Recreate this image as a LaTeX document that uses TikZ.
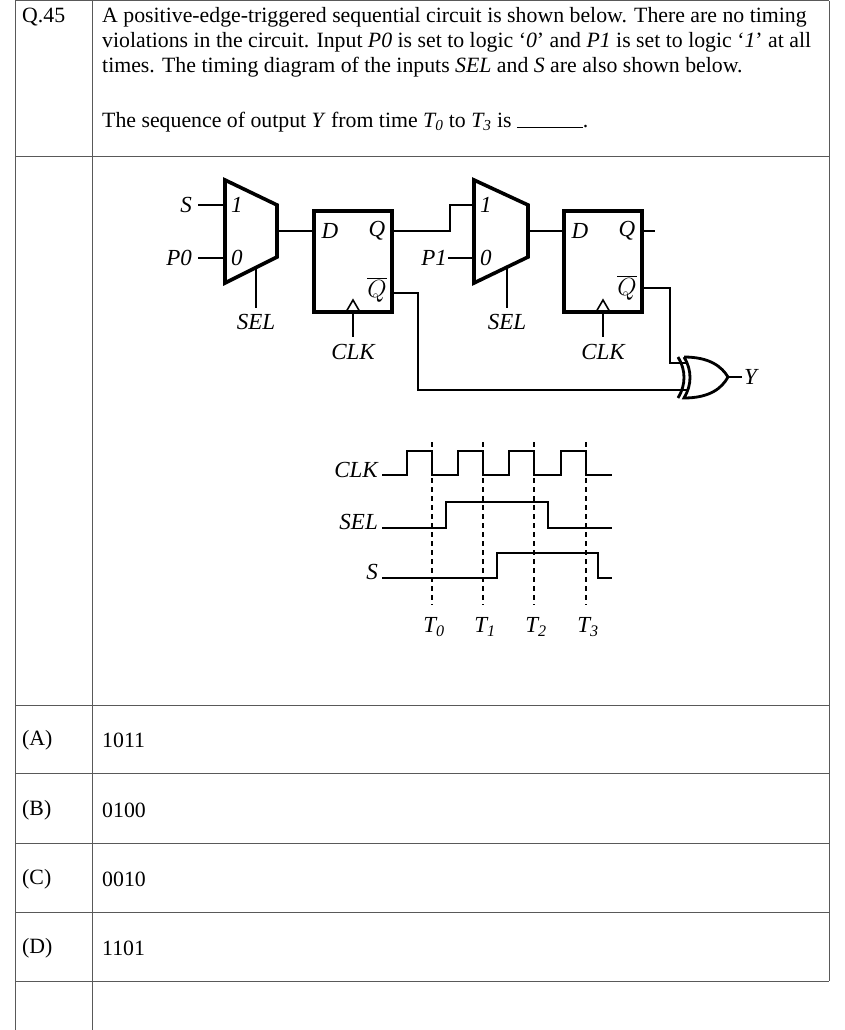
\documentclass[tikz,border=0pt]{standalone}
\usepackage{fontspec}
\setmainfont{Liberation Serif}
\begin{document}
\begin{tikzpicture}[x=1pt, y=-1pt,
  txt/.style = {anchor=west, inner sep=0pt, font=\fontsize{21.8}{27}\selectfont},
  lbl/.style = {inner sep=0pt, font=\fontsize{23}{27}\selectfont\itshape},
  thick box/.style = {line width=3.6pt, line join=miter},
  wire/.style = {line width=1.6pt},
  wave/.style = {line width=1.8pt},
  mark line/.style = {line width=1.3pt, dashed, dash pattern=on 5pt off 4pt}]
	\useasboundingbox (0,0) rectangle (845,1030);
	
	% table
	\draw[line width=1pt, gray!70!black] (15,1) -- (829,1);
	\foreach \y in {156,705,773,843,912,981}
	  \draw[line width=1pt, gray!70!black] (15,\y) -- (829,\y);
	\draw[line width=1pt, gray!70!black] (15,1) -- (15,1030);
	\draw[line width=1pt, gray!70!black] (92,1) -- (92,1030);
	\draw[line width=1pt, gray!70!black] (829,1) -- (829,981);
	
	\node[txt] (qno) at (22,17) {Q.45};
	\node[txt] (l1) at (102,17) {A positive-edge-triggered sequential circuit is shown below. There are no timing};
	\node[txt] (l2) at (102,42) {violations in the circuit. Input \textit{P0} is set to logic `\textit{0}' and \textit{P1} is set to logic `\textit{1}' at all};
	\node[txt] (l3) at (102,67) {times. The timing diagram of the inputs \textit{SEL} and \textit{S} are also shown below.};
	\node[txt] (l4) at (102,122) {The sequence of output \textit{Y} from time \textit{T\textsubscript{0}} to \textit{T\textsubscript{3}} is \rule{66pt}{0.7pt}.};
	
	\node[txt] (oa) at (22,740) {(A)};  \node[txt] (va) at (102,740) {1011};
	\node[txt] (ob) at (22,810) {(B)};  \node[txt] (vb) at (102,810) {0100};
	\node[txt] (oc) at (22,879) {(C)};  \node[txt] (vc) at (102,879) {0010};
	\node[txt] (od) at (22,948) {(D)};  \node[txt] (vd) at (102,948) {1101};
	
	% mux 1
	\draw[thick box] (225,180) -- (277,205) -- (277,257) -- (225,283) -- cycle;
	\node[lbl, anchor=west] (m1a) at (231,205) {1};
	\node[lbl, anchor=west] (m1b) at (231,258) {0};
	\node[lbl, anchor=east] (sin) at (192,205) {S};
	\node[lbl, anchor=east] (p0) at (192,258) {P0};
	\draw[wire] (198,205) -- (225,205);
	\draw[wire] (198,258) -- (225,258);
	\draw[wire] (256,269) -- (256,308);
	\node[lbl] (sel1) at (256,322) {SEL};
	
	% flip-flop 1
	\draw[thick box] (314,211) rectangle (392,312);
	\node[lbl] (d1) at (330,231) {D};
	\node[lbl] (q1) at (377,231) {Q};
	\node[lbl] (nq1) at (377,290) {$\overline{Q}$};
	\draw[wire] (346,312) -- (353,300) -- (360,312);
	\draw[wire] (353,312) -- (353,337);
	\node[lbl] (clk1) at (353,352) {CLK};
	\draw[wire] (277,231) -- (314,231);
	
	% mux 2
	\draw[thick box] (474,180) -- (528,205) -- (528,257) -- (474,283) -- cycle;
	\node[lbl, anchor=west] (m2a) at (480,205) {1};
	\node[lbl, anchor=west] (m2b) at (480,258) {0};
	\node[lbl, anchor=east] (p1) at (447,258) {P1};
	\draw[wire] (448,258) -- (474,258);
	\draw[wire] (392,231) -- (450,231) -- (450,205) -- (474,205);
	\draw[wire] (507,269) -- (507,308);
	\node[lbl] (sel2) at (507,322) {SEL};
	
	% flip-flop 2
	\draw[thick box] (564,211) rectangle (642,312);
	\node[lbl] (d2) at (580,231) {D};
	\node[lbl] (q2) at (627,231) {Q};
	\node[lbl] (nq2) at (627,288) {$\overline{Q}$};
	\draw[wire] (596,312) -- (603,300) -- (610,312);
	\draw[wire] (603,312) -- (603,337);
	\node[lbl] (clk2) at (603,352) {CLK};
	\draw[wire] (528,231) -- (564,231);
	\draw[wire] (642,231) -- (655,231);
	
	% xor gate
	\draw[line width=2.8pt] (684,357) .. controls (710,357) and (722,367) .. (728,377)
	  .. controls (722,388) and (710,398) .. (684,398)
	  .. controls (692,385) and (692,370) .. (684,357);
	\draw[line width=2.8pt] (678,357) .. controls (686,370) and (686,385) .. (678,398);
	\draw[wire] (642,288) -- (670,288) -- (670,363) -- (688,363);
	\draw[wire] (392,293) -- (418,293) -- (418,390) -- (688,390);
	\draw[wire] (728,377) -- (742,377);
	\node[lbl, anchor=west] (y) at (744,377) {Y};
	
	% timing diagram
	\node[lbl, anchor=east] (tclk) at (378,470) {CLK};
	\node[lbl, anchor=east] (tsel) at (378,522) {SEL};
	\node[lbl, anchor=east] (ts) at (378,572) {S};
	\draw[wave] (382,475) -- (407,475) -- (407,451) -- (432,451) -- (432,475)
	  -- (458,475) -- (458,451) -- (483,451) -- (483,475)
	  -- (509,475) -- (509,451) -- (534,451) -- (534,475)
	  -- (561,475) -- (561,451) -- (586,451) -- (586,475) -- (612,475);
	\draw[wave] (382,528) -- (446,528) -- (446,502) -- (548,502) -- (548,528) -- (612,528);
	\draw[wave] (382,578) -- (497,578) -- (497,553) -- (598,553) -- (598,578) -- (612,578);
	\foreach \x/\i in {432/0,483/1,534/2,586/3} {
	  \draw[mark line] (\x,442) -- (\x,605);
	  \node[lbl] (t\i) at (\x+2,627) {T\textsubscript{\i}};
	}
\end{tikzpicture}
\end{document}
